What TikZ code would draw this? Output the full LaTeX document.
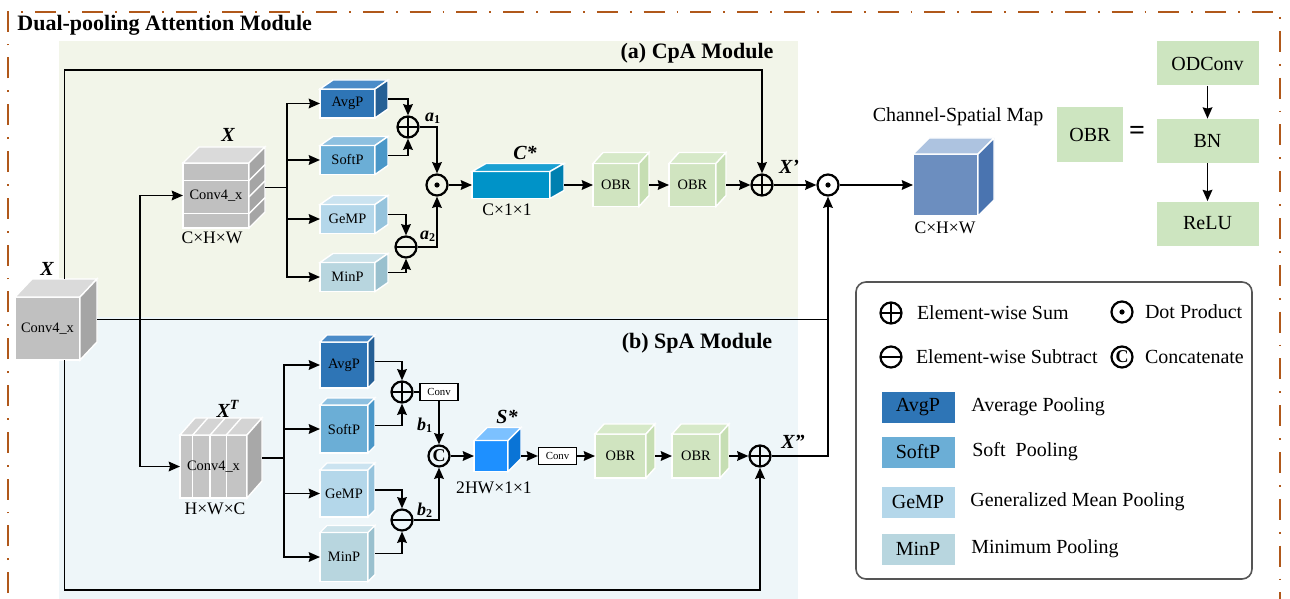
\documentclass[tikz,border=0pt]{standalone}
\usepackage{tikz}
\usepackage{tkz-euclide}
\usepackage{fontspec}
\setmainfont{Liberation Serif}
\setsansfont{Liberation Serif}
\renewcommand{\familydefault}{\rmdefault}
\usetikzlibrary{positioning}
\usetikzlibrary{arrows.meta}
\usetikzlibrary{calc}

\definecolor{cpabg}{HTML}{F2F5E9}
\definecolor{spabg}{HTML}{EEF6F9}
\definecolor{brdcol}{HTML}{B0581A}
\definecolor{legline}{HTML}{555555}
\definecolor{obrg}{HTML}{CDE5C0}

\definecolor{gryF}{HTML}{C0C0C0}  \definecolor{gryT}{HTML}{DADADA}  \definecolor{gryS}{HTML}{A5A5A5}
\definecolor{grylF}{HTML}{C4C4C4} \definecolor{grylT}{HTML}{D4D4D4} \definecolor{grylS}{HTML}{A8A8A8}
\definecolor{avgF}{HTML}{2E75B6}  \definecolor{avgT}{HTML}{4A8BC8}  \definecolor{avgS}{HTML}{255F95}
\definecolor{softF}{HTML}{6BAED6} \definecolor{softT}{HTML}{8DC0E0} \definecolor{softS}{HTML}{4A97C8}
\definecolor{gemF}{HTML}{B4D7EA}  \definecolor{gemT}{HTML}{CBE3F0}  \definecolor{gemS}{HTML}{95C3DC}
\definecolor{mnpF}{HTML}{B8D6DF}  \definecolor{mnpT}{HTML}{CDE3EA}  \definecolor{mnpS}{HTML}{99C0CE}
\definecolor{cstF}{HTML}{0093C8}  \definecolor{cstT}{HTML}{1AA0D2}  \definecolor{cstS}{HTML}{0080B0}
\definecolor{sstF}{HTML}{1E90FF}  \definecolor{sstT}{HTML}{7CC1FF}  \definecolor{sstS}{HTML}{0A74D6}
\definecolor{obrF}{HTML}{D0E4C0}  \definecolor{obrT}{HTML}{D6E9C8}  \definecolor{obrS}{HTML}{C6DEB3}
\definecolor{outbF}{HTML}{6C8EBF} \definecolor{outbT}{HTML}{ADC3E0} \definecolor{outbS}{HTML}{4A74B0}

% name, centre, width, height, dx, dy, colour, text, extra options
\newcommand{\blockcube}[9]{%
  \node[cubeface,fill=#7F,minimum width=#3*0.5pt,minimum height=#4*0.5pt,#9] (#1) at (#2) {#8};
  \filldraw[cubeedge,fill=#7T] (#1.north west) -- ++(#5,#6) -- ++(#3,0) -- (#1.north east) -- cycle;
  \filldraw[cubeedge,fill=#7S] (#1.north east) -- ++(#5,#6) -- ++(0,#4) -- (#1.south east) -- cycle;
  \coordinate (#1-r) at ($(#1.east)+(#5,#6/2)$);
  \coordinate (#1-t) at ($(#1.north)+(#5,#6)$);
}

\begin{document}
\begin{tikzpicture}[
  x=0.5pt, y=-0.5pt,
  >={Stealth[length=5.6pt,width=4.8pt,inset=0.6pt]},
  wire/.style = {line width=0.9pt},
  frameline/.style = {draw=brdcol,line width=1.3pt,dash pattern=on 10.5pt off 6pt on 0.9pt off 6pt},
  cubeface/.style = {draw=white,line width=0.7pt,inner sep=0pt,outer sep=0pt,
                     font=\rmfamily\fontsize{7.2}{8}\selectfont},
  cubeedge/.style = {draw=white,line width=0.7pt},
  hstripes/.style = {path picture={
      \foreach \f in {0.27,0.78}
        \draw[white,line width=0.7pt]
          ($(path picture bounding box.north west)!\f!(path picture bounding box.south west)$) --
          ($(path picture bounding box.north east)!\f!(path picture bounding box.south east)$);}},
  vstripes/.style = {path picture={
      \foreach \f in {0.19,0.45,0.69}
        \draw[white,line width=0.7pt]
          ($(path picture bounding box.north west)!\f!(path picture bounding box.north east)$) --
          ($(path picture bounding box.south west)!\f!(path picture bounding box.south east)$);}},
  op/.style = {circle,draw,line width=1.1pt,minimum size=10.5pt,inner sep=0pt},
  opsum/.style = {op,path picture={\draw[line width=1.1pt]
      (path picture bounding box.north) -- (path picture bounding box.south)
      (path picture bounding box.west) -- (path picture bounding box.east);}},
  opsub/.style = {op,path picture={\draw[line width=1.1pt]
      (path picture bounding box.west) -- (path picture bounding box.east);}},
  opdot/.style = {op,path picture={\fill (path picture bounding box.center) circle (1.3pt);}},
  opcat/.style = {op,font=\rmfamily\fontsize{9}{9}\selectfont\bfseries},
  mathlab/.style = {inner sep=0pt,font=\rmfamily\fontsize{10}{12}\selectfont\bfseries\itshape},
  sublab/.style = {inner sep=0pt,font=\rmfamily\fontsize{9}{10}\selectfont\bfseries\itshape},
  dimlab/.style = {inner sep=0pt,font=\rmfamily\fontsize{8.8}{10}\selectfont},
  modlabel/.style = {inner sep=0pt,font=\rmfamily\fontsize{11}{13}\selectfont\bfseries},
  convbox/.style = {draw,line width=0.6pt,fill=white,inner sep=0pt,minimum width=19pt,
                    minimum height=8.5pt,font=\rmfamily\fontsize{5.4}{6}\selectfont},
  obrbox/.style = {fill=obrg,inner sep=0pt,minimum width=51pt,minimum height=22pt,
                   font=\rmfamily\fontsize{10}{12}\selectfont},
  legbox/.style = {draw=legline,line width=0.8pt,rounded corners=5pt,
                   minimum width=198pt,minimum height=148.5pt},
  legtext/.style = {inner sep=0pt,font=\rmfamily\fontsize{10}{12}\selectfont},
  swatch/.style = {inner sep=0pt,minimum width=36.5pt,minimum height=15.5pt,
                   font=\rmfamily\fontsize{10}{12}\selectfont}
]

  \useasboundingbox (0,0) rectangle (1290,599);

  % frame and the two module panels
  \draw[frameline] (8,640) -- (8,12) -- (1280,12) -- (1280,640);
  \fill[cpabg] (59,41) rectangle (798,317);
  \fill[spabg] (59,317) rectangle (798,599);

  \node[anchor=west,inner sep=0pt,font=\rmfamily\fontsize{11}{13}\selectfont\bfseries] (title) at (17,25)
    {Dual-pooling Attention Module};
  \node[modlabel] (cpa) at (697,53) {(a) CpA Module};
  \node[modlabel] (spa) at (697,343) {(b) SpA Module};

  % input
  \blockcube{xin}{47.5,328.5}{65}{63}{17}{-18}{gry}{Conv4\_x}{}
  \node[mathlab] (xinlab) at (47,269) {X};

  % (a) CpA
  \blockcube{xc}{216,195.5}{66}{65}{16}{-16}{gry}{Conv4\_x}{hstripes}
  \foreach \f in {0.27,0.52,0.78}
    \draw[cubeedge] ($(xc.north east)!\f!(xc.south east)$) -- ++(16,-16);
  \node[mathlab] (xclab) at (228,135) {X};
  \node[dimlab] (xcdim) at (212,238) {C×H×W};

  \blockcube{avg1}{347.5,103.5}{55}{29}{13}{-9}{avg}{AvgP}{}
  \blockcube{soft1}{347.5,160}{55}{29}{13}{-9}{soft}{SoftP}{}
  \blockcube{gem1}{347.5,219}{55}{29}{13}{-9}{gem}{GeMP}{}
  \blockcube{min1}{347.5,277}{55}{29}{13}{-9}{mnp}{MinP}{}

  \node[opsum] (suma) at (408,127) {};
  \node[opsub] (suba) at (406,247) {};
  \node[opdot] (dota) at (437,185) {};
  \node[sublab] (alab1) at (433,118) {a\textsubscript{\upshape 1}};
  \node[sublab] (alab2) at (428,236) {a\textsubscript{\upshape 2}};

  \blockcube{cs}{511,185}{78}{27}{14}{-8}{cst}{}{}
  \node[mathlab] (cslab) at (525,153) {C*};
  \node[dimlab] (csdim) at (507,210) {C×1×1};
  \blockcube{obr1}{616,185}{46}{43}{10}{-11}{obr}{OBR}{}
  \blockcube{obr2}{692.5,185}{47}{43}{10}{-11}{obr}{OBR}{}
  \node[opsum] (sumx) at (762,185) {};
  \node[mathlab] (xplab) at (789,167) {X’};
  \node[opdot] (dotx) at (828,185) {};

  % output map
  \blockcube{outc}{945.5,185}{65}{62}{16}{-16}{outb}{}{}
  \node[font=\rmfamily\fontsize{10}{12}\selectfont] (maplab) at (958,117) {Channel-Spatial Map};
  \node[dimlab] (outdim) at (945,228) {C×H×W};

  % (b) SpA
  \blockcube{xt}{213.5,466.5}{67}{63}{15}{-17}{gryl}{Conv4\_x}{vstripes}
  \foreach \f in {0.19,0.45,0.69}
    \draw[cubeedge] ($(xt.north west)!\f!(xt.north east)$) -- ++(15,-17);
  \node[mathlab] (xtlab) at (228,409) {X\textsuperscript{T}};
  \node[dimlab] (xtdim) at (215,509) {H×W×C};

  \blockcube{avg2}{344,365}{48}{46}{7}{-7}{avg}{AvgP}{}
  \blockcube{soft2}{344,429}{48}{48}{7}{-7}{soft}{SoftP}{}
  \blockcube{gem2}{344,493.5}{48}{47}{7}{-7}{gem}{GeMP}{}
  \blockcube{min2}{344,557}{48}{49}{7}{-7}{mnp}{MinP}{}

  \node[opsum] (sumb) at (402,392) {};
  \node[convbox] (cv1) at (439,392) {Conv};
  \node[opcat] (cat) at (439,456) {C};
  \node[opsub] (subb) at (402,520) {};
  \node[sublab] (blab1) at (425,425) {b\textsubscript{\upshape 1}};
  \node[sublab] (blab2) at (425,510) {b\textsubscript{\upshape 2}};

  \blockcube{ss}{491,456}{34}{31}{13}{-13}{sst}{}{}
  \node[mathlab] (sslab) at (507,417) {S*};
  \node[dimlab] (ssdim) at (494,488) {2HW×1×1};
  \node[convbox] (cv2) at (557.5,456) {Conv};
  \blockcube{obr3}{620.5,456}{51}{44}{9}{-10}{obr}{OBR}{}
  \blockcube{obr4}{696,456}{48}{44}{9}{-10}{obr}{OBR}{}
  \node[opsum] (sumxx) at (760,456) {};
  \node[mathlab] (xpplab) at (793,442) {X”};

  % OBR block
  \node[obrbox,minimum width=33pt,minimum height=27.5pt] (obrl) at (1090,134.5) {OBR};
  \node[inner sep=0pt,font=\rmfamily\fontsize{14}{14}\selectfont\bfseries] (eq) at (1137,133) {=};
  \node[obrbox] (odc) at (1207.5,63.5) {ODConv};
  \node[obrbox] (bn) at (1207.5,141) {BN};
  \node[obrbox] (relu) at (1207.5,223.5) {ReLU};
  \draw[wire,->] (odc) -- (bn);
  \draw[wire,->] (bn) -- (relu);

  % legend
  \node[legbox] (legend) at (1054,430.5) {};
  \node[opsum] (lsum) at (891,313) {};
  \node[legtext,right=7pt of lsum] (lsumt) {Element-wise Sum};
  \node[opdot] (ldot) at (1122,312) {};
  \node[legtext,right=5.5pt of ldot] (ldott) {Dot Product};
  \node[opsub] (lsub) at (891,357) {};
  \node[legtext,right=6.5pt of lsub] (lsubt) {Element-wise Subtract};
  \node[opcat] (lcat) at (1122,357) {C};
  \node[legtext,right=5.5pt of lcat] (lcatt) {Concatenate};

  \node[swatch,fill=avgF] (lavg) at (918,407) {AvgP};
  \node[legtext,right=8pt of lavg] (lavgt) {Average Pooling};
  \node[swatch,fill=softF] (lsoft) at (918,452) {SoftP};
  \node[legtext,right=8.5pt of lsoft] (lsoftt) {Soft\ \ Pooling};
  \node[swatch,fill=gemF] (lgem) at (918,502) {GeMP};
  \node[legtext,right=7.5pt of lgem] (lgemt) {Generalized Mean Pooling};
  \node[swatch,fill=mnpF] (lmin) at (918,549) {MinP};
  \node[legtext,right=8pt of lmin] (lmint) {Minimum Pooling};

  % connectors
  \tkzDefPoint(140,319.5){trunk}
  \tkzDefPoint(762,70){rtop}
  \tkzDefPoint(760,590){rbot}

  \draw[wire] (xin-r) -- (xin-r -| dotx);
  \draw[wire,->] (trunk) |- (xc);
  \draw[wire,->] (trunk) |- (xt);
  \draw[wire,->] (xin-t) |- (rtop) -- (sumx);
  \draw[wire,->] (xin.south -| xin-t) |- (rbot) -- (sumxx);

  \draw[wire] (xc-r) -- ++(22,0) coordinate (bra);
  \foreach \p in {avg1,soft1,gem1,min1}
    \draw[wire,->] (bra) |- (\p);
  \draw[wire,->] (avg1-r) -| (suma);
  \draw[wire,->] (soft1-r) -| (suma);
  \draw[wire,->] (gem1-r) -| (suba);
  \draw[wire,->] (min1-r) -| (suba);
  \draw[wire,->] (suma) -| (dota);
  \draw[wire,->] (suba) -| (dota);
  \draw[wire,->] (dota) -- (cs);
  \draw[wire,->] (cs-r |- cs) -- (obr1);
  \draw[wire,->] (obr1-r |- obr1) -- (obr2);
  \draw[wire,->] (obr2-r |- obr2) -- (sumx);
  \draw[wire,->] (sumx) -- (dotx);
  \draw[wire,->] (dotx) -- (outc);

  \draw[wire] (xt-r) -- ++(22,0) coordinate (brb);
  \foreach \p in {avg2,soft2,gem2,min2}
    \draw[wire,->] (brb) |- (\p);
  \draw[wire,->] (avg2-r) -| (sumb);
  \draw[wire,->] (soft2-r) -| (sumb);
  \draw[wire,->] (gem2-r) -| (subb);
  \draw[wire,->] (min2-r) -| (subb);
  \draw[wire] (sumb) -- (cv1);
  \draw[wire,->] (cv1) -- (cat);
  \draw[wire,->] (subb) -| (cat);
  \draw[wire,->] (cat) -- (ss);
  \draw[wire,->] (ss-r |- ss) -- (cv2);
  \draw[wire,->] (cv2) -- (obr3);
  \draw[wire,->] (obr3-r |- obr3) -- (obr4);
  \draw[wire,->] (obr4-r |- obr4) -- (sumxx);
  \draw[wire,->] (sumxx) -| (dotx);
  % \draw[wire] (dotx) -- (outc.west);

\end{tikzpicture}
\end{document}
